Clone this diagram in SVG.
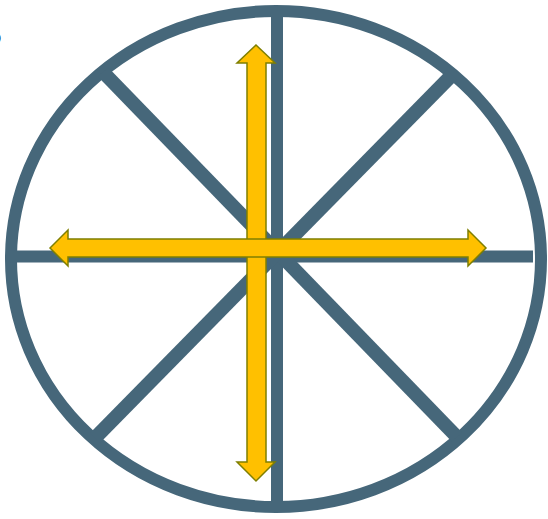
<svg xmlns="http://www.w3.org/2000/svg" width="548" height="519" viewBox="0 0 548 519">
<style>
.ln{stroke:#46677A;stroke-width:12;fill:none}
.dg{stroke-width:14}
.ar{fill:#FFC000;stroke:#7F7F00;stroke-width:1.5;stroke-linejoin:miter}
.lbl{font-family:"Liberation Sans",Arial,sans-serif;font-size:30px;fill:#000}
</style>
<rect width="548" height="519" fill="#fff"/>
<text class="lbl" x="-15" y="45">5</text>
<g id="wheel">
<ellipse class="ln" cx="276" cy="259" rx="265" ry="248" stroke-width="11"/>
</g>
<g id="connectors">
<line class="ln" x1="277" y1="12" x2="277" y2="507"/>
<line class="ln" x1="10" y1="256.5" x2="533" y2="256.5"/>
<line class="ln dg" x1="103" y1="72" x2="457" y2="437"/>
<line class="ln dg" x1="452" y1="75" x2="95" y2="438"/>
</g>
<g id="vertical-arrow">
<polygon class="ar" points="256,45 275,63 266,63 266,462 275,462 256,481 237,462 247,462 247,63 237,63"/>
</g>
<g id="horizontal-arrow">
<polygon class="ar" points="50,248 68,230 68,239 468,239 468,230 486,248 468,266 468,257 68,257 68,266"/>
</g>
</svg>
